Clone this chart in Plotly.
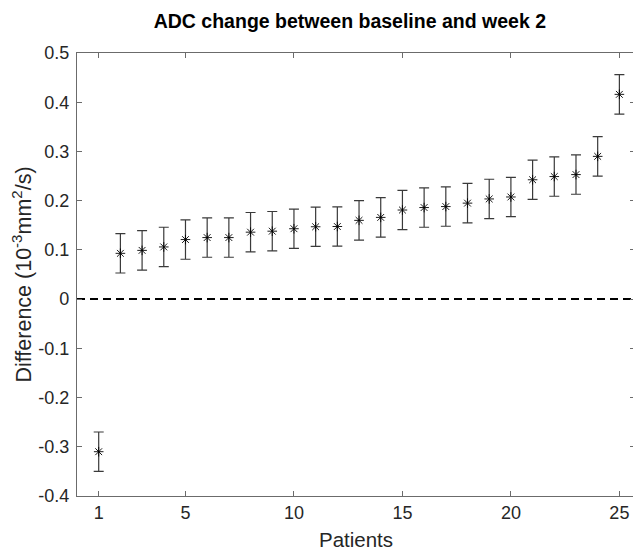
import plotly.graph_objects as go

patients = list(range(1, 26))
diff = [-0.310, 0.093, 0.099, 0.106, 0.121, 0.125, 0.125, 0.136, 0.138, 0.143,
        0.147, 0.1475, 0.160, 0.166, 0.181, 0.186, 0.188, 0.195, 0.2035, 0.2075,
        0.2425, 0.249, 0.253, 0.290, 0.416]
err = [0.04] * 25
x_ticks = [1, 5, 10, 15, 20, 25]
y_ticks = [-0.4, -0.3, -0.2, -0.1, 0, 0.1, 0.2, 0.3, 0.4, 0.5]
y_ticklabels = ["-0.4", "-0.3", "-0.2", "-0.1", "0", "0.1", "0.2", "0.3", "0.4", "0.5"]
x_range = [0, 25.72]
y_range = [-0.4, 0.5]

FONT = "Liberation Sans, Arial, sans-serif"
TXT = "#262626"
AX = "#6b6b6b"

# the page body has an 8px default margin, so the figure is drawn 8px in
W, H = 633, 544

fig = go.Figure()
fig.add_trace(go.Scatter(
    x=x_range, y=[0, 0], mode="lines",
    line=dict(color="black", width=2, dash="8px,5px"),
    hoverinfo="skip", showlegend=False,
))
fig.add_trace(go.Scatter(
    x=patients, y=diff, mode="markers",
    marker=dict(symbol="asterisk-open", size=8, color="black",
                line=dict(color="black", width=0.9)),
    error_y=dict(type="data", array=err, visible=True,
                 color="#3a3a3a", thickness=1.2, width=5),
    showlegend=False,
))

fig.update_layout(
    width=W, height=H,
    margin=dict(l=69, r=5, t=45, b=54),
    paper_bgcolor="white", plot_bgcolor="white",
    font=dict(family=FONT, color=TXT, size=18),
    title=dict(text="<b>ADC change between baseline and week 2</b>",
               x=0.489, xanchor="center", y=1 - 13 / H, yanchor="middle",
               yref="container", xref="paper",
               font=dict(size=19.5, color="black", family=FONT)),
    xaxis=dict(range=x_range, tickvals=x_ticks, ticks="inside", ticklen=5,
               tickcolor=AX, linecolor=AX, linewidth=1.2, mirror="ticks",
               showgrid=False, zeroline=False, showline=True,
               tickfont=dict(size=18, color=TXT),
               title=dict(text="Patients", font=dict(size=20.5, color=TXT), standoff=10)),
    yaxis=dict(range=y_range, tickvals=y_ticks, ticktext=y_ticklabels,
               ticks="inside", ticklen=5, ticklabelstandoff=3,
               tickcolor=AX, linecolor=AX, linewidth=1.2, mirror="ticks",
               showgrid=False, zeroline=False, showline=True,
               tickfont=dict(size=18, color=TXT),
               title=dict(text="Difference (10<sup>-3</sup>mm<sup>2</sup>/s)",
                          font=dict(size=21.5, color=TXT), standoff=3)),
)

fig.write_html("out.html")
